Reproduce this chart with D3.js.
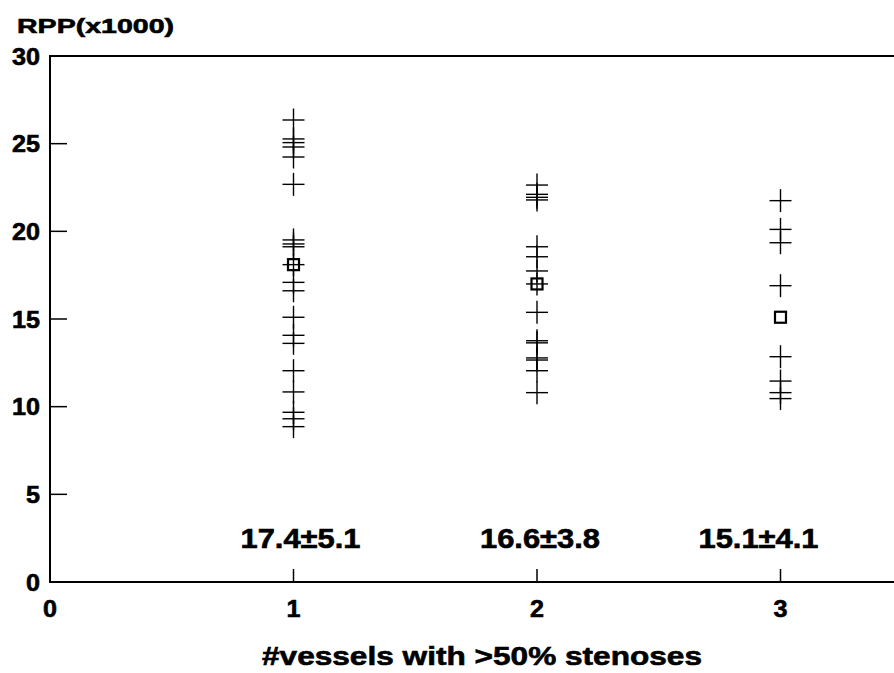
<!DOCTYPE html>
<html>
<head>
<meta charset="utf-8">
<script src="https://cdn.jsdelivr.net/npm/d3@7"></script>
<style>
  html, body { margin: 0; padding: 0; background: #fff; }
  svg { display: block; }
  text { font-family: "Liberation Sans", Arial, Helvetica, sans-serif; font-weight: bold; fill: #000; stroke: #000; stroke-width: 0.6px; }
</style>
</head>
<body>
<svg id="chart" width="894" height="673"></svg>
<script>
// ---- data ----
const categories = [1, 2, 3];
const rppOneVessel = [26.35, 25.27, 25.06, 24.81, 24.24, 22.68, 19.51, 19.28, 19.12, 18.1,
                      17.09, 16.61, 15.10, 14.07, 13.61, 12.05, 10.84, 9.68, 9.31, 8.86];
const rppTwoVessel = [22.64, 22.11, 21.94, 21.79, 19.12, 18.55, 17.74, 17.0, 15.38,
                      13.76, 13.64, 12.78, 12.66, 12.05, 10.80];
const rppThreeVessel = [21.75, 20.11, 19.35, 16.90, 12.85, 11.46, 10.80, 10.46];
const groupMeans = [18.1, 17.0, 15.1];
const summaryLabels = ["17.4\u00B15.1", "16.6\u00B13.8", "15.1\u00B14.1"];
const yTickValues = [0, 5, 10, 15, 20, 25, 30];
const xTickValues = [0, 1, 2, 3];
const yAxisTitle = "RPP(x1000)";
const xAxisTitle = "#vessels with >50% stenoses";

// ---- layout ----
const svg = d3.select("#chart");
const x = d3.scaleLinear().domain([0, 3.5]).range([50, 50 + 3.5 * 243.5]);
const y = d3.scaleLinear().domain([0, 30]).range([582, 56]);

const groups = [rppOneVessel, rppTwoVessel, rppThreeVessel];

// frame: left, bottom, top lines
svg.append("line").attr("x1", x(0)).attr("x2", x(0)).attr("y1", y(30) - 1).attr("y2", y(0) + 1)
  .attr("stroke", "#000").attr("stroke-width", 2);
svg.append("line").attr("x1", x(0) - 1).attr("x2", 894).attr("y1", y(0)).attr("y2", y(0))
  .attr("stroke", "#000").attr("stroke-width", 2);
svg.append("line").attr("x1", x(0) - 1).attr("x2", 894).attr("y1", y(30)).attr("y2", y(30))
  .attr("stroke", "#000").attr("stroke-width", 2);

// y ticks (inward) and labels
svg.selectAll(".ytick").data(yTickValues.filter(v => v > 0 && v < 30)).join("line")
  .attr("x1", x(0)).attr("x2", x(0) + 17)
  .attr("y1", d => y(d)).attr("y2", d => y(d))
  .attr("stroke", "#000").attr("stroke-width", 1.5);
svg.selectAll(".ylab").data(yTickValues).join("text")
  .attr("x", 40).attr("y", d => y(d) + 8.5)
  .attr("text-anchor", "end")
  .attr("font-size", 23)
  .attr("textLength", d => String(d).length * 14)
  .attr("lengthAdjust", "spacingAndGlyphs")
  .text(d => d);

// x ticks (inward) and labels
svg.selectAll(".xtick").data(xTickValues.filter(v => v > 0)).join("line")
  .attr("x1", d => x(d)).attr("x2", d => x(d))
  .attr("y1", y(0)).attr("y2", y(0) - 13)
  .attr("stroke", "#000").attr("stroke-width", 1.5);
svg.selectAll(".xlab").data(xTickValues).join("text")
  .attr("x", d => x(d)).attr("y", 617)
  .attr("text-anchor", "middle")
  .attr("font-size", 24)
  .attr("textLength", 14)
  .attr("lengthAdjust", "spacingAndGlyphs")
  .text(d => d);

// axis titles
svg.append("text").attr("x", 17).attr("y", 33)
  .attr("font-size", 21).attr("textLength", 157).attr("lengthAdjust", "spacingAndGlyphs")
  .text(yAxisTitle);
svg.append("text").attr("x", 262).attr("y", 665)
  .attr("font-size", 26).attr("textLength", 440).attr("lengthAdjust", "spacingAndGlyphs")
  .text(xAxisTitle);

// crosses
const hw = 11, hh = 11.5;
groups.forEach((vals, i) => {
  const cx = x(categories[i]);
  const g = svg.append("g").attr("stroke", "#000").attr("stroke-width", 1.4);
  g.selectAll("line.h").data(vals).join("line")
    .attr("x1", cx - hw).attr("x2", cx + hw)
    .attr("y1", d => y(d)).attr("y2", d => y(d));
  g.selectAll("line.v").data(vals).join("line")
    .attr("x1", cx).attr("x2", cx)
    .attr("y1", d => y(d) - hh).attr("y2", d => y(d) + hh);
});

// mean squares
svg.selectAll(".mean").data(groupMeans).join("rect")
  .attr("x", (d, i) => x(categories[i]) - 5.5)
  .attr("y", d => y(d) - 5.5)
  .attr("width", 11).attr("height", 11)
  .attr("fill", "none").attr("stroke", "#000").attr("stroke-width", 2.2);

// summary labels
const labelShift = [7, 3, -22];
svg.selectAll(".summary").data(summaryLabels).join("text")
  .attr("x", (d, i) => x(categories[i]) + labelShift[i])
  .attr("y", 548)
  .attr("text-anchor", "middle")
  .attr("font-size", 27)
  .attr("textLength", 120)
  .attr("lengthAdjust", "spacingAndGlyphs")
  .text(d => d);
</script>
</body>
</html>
